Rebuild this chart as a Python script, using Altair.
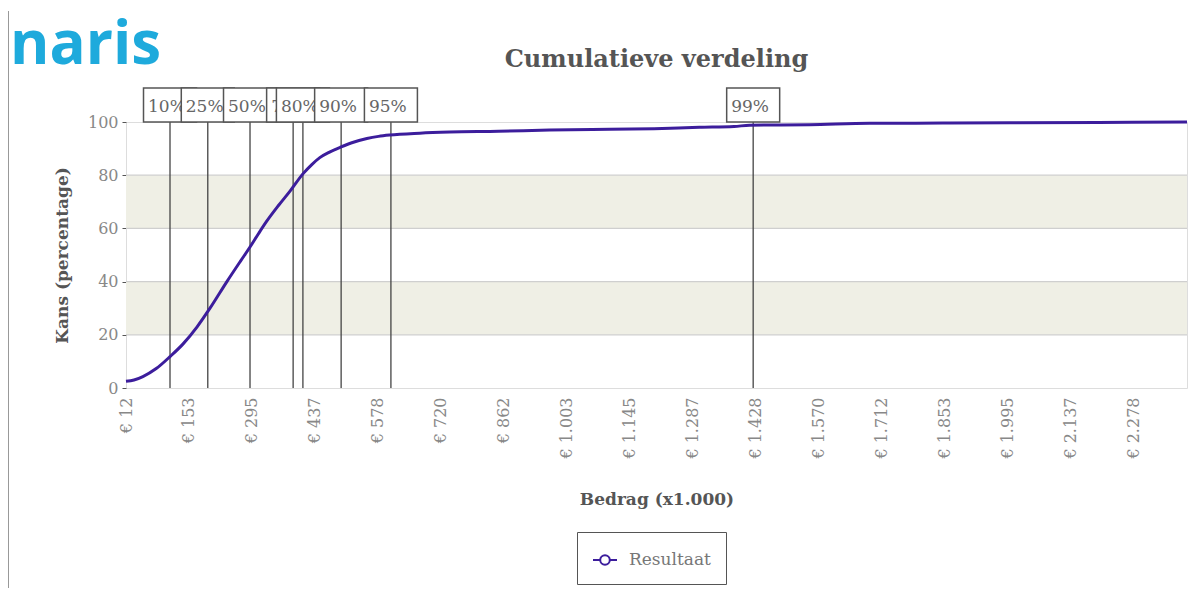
import altair as alt
import pandas as pd

# ---- data ----
bedrag = [12, 30, 50, 80, 111, 140, 172, 201, 239, 270, 291, 310, 329, 355, 381,
          410, 430, 448, 470, 493, 520, 554, 580, 605, 673, 740, 850, 965, 1100,
          1200, 1302, 1380, 1415, 1550, 1685, 1850, 2000, 2200, 2399]
kans = [2.5, 3.0, 4.3, 7.3, 11.8, 16.5, 23, 30, 40, 47.8, 53, 58, 62.8, 68.6, 74,
        80.5, 84, 86.6, 88.7, 90.4, 92.2, 93.8, 94.6, 95.1, 95.8, 96.2, 96.5, 97, 97.3,
        97.5, 98, 98.3, 98.8, 99.0, 99.5, 99.6, 99.7, 99.8, 100]

percentile_labels = ["10%", "25%", "50%", "75%", "80%", "90%", "95%", "99%"]
percentile_values = [111, 196, 291, 388, 410, 496, 608, 1423]

x_ticks = [12, 153, 295, 437, 578, 720, 862, 1003, 1145, 1287, 1428, 1570,
           1712, 1853, 1995, 2137, 2278]
y_ticks = [0, 20, 40, 60, 80, 100]
band_lo = [20, 60]
band_hi = [40, 80]
grid_values = [20, 40, 60, 80]
series_name = "Resultaat"
chart_title = "Cumulatieve verdeling"
logo_text = "naris"

W, H = 1061, 266
FONT = "DejaVu Serif"
LINE = "#3c1d9c"

xscale = alt.Scale(domain=[12, 2399], nice=False, zero=False)
yscale = alt.Scale(domain=[0, 100], nice=False, zero=True)

xaxis = alt.Axis(
    values=x_ticks, labelAngle=-90, labelAlign="right", labelBaseline="middle",
    labelExpr="'€ ' + replace(format(datum.value, ',.0f'), ',', '.')",
    labelFont=FONT, labelFontSize=16, labelColor="#888", labelPadding=9,
    ticks=False, domain=False, grid=False, labelOverlap=False,
    title="Bedrag (x1.000)", titleFont=FONT, titleFontSize=17, titleFontWeight="bold",
    titleColor="#555", titleY=103, titleBaseline="top",
)
yaxis = alt.Axis(
    values=y_ticks, labelFont=FONT, labelFontSize=16, labelColor="#888",
    labelPadding=4, tickSize=4, tickColor="#555", domain=False, grid=False,
    title="Kans (percentage)", titleFont=FONT, titleFontSize=17, titleFontWeight="bold",
    titleColor="#555", titleX=-55, titleY=H / 2, titleBaseline="bottom", titleAngle=-90,
)


def X(field):
    return alt.X(field, type="quantitative", scale=xscale, axis=xaxis, title="Bedrag (x1.000)")


def Y(field):
    return alt.Y(field, type="quantitative", scale=yscale, axis=yaxis, title="Kans (percentage)")


bands = alt.Chart(pd.DataFrame({"lo": band_lo, "hi": band_hi})).mark_rect(
    color="#efefe5"
).encode(x=alt.value(0), x2=alt.value(W), y=Y("lo"), y2="hi:Q")

grid = alt.Chart(pd.DataFrame({"g": grid_values})).mark_rule(
    color="#cfcfcf", strokeWidth=1.2
).encode(y=Y("g"), x=alt.value(0), x2=alt.value(W))

pct_df = pd.DataFrame({"pv": percentile_values, "lab": percentile_labels})
rules = alt.Chart(pct_df).mark_rule(color="#444", strokeWidth=1.3).encode(
    x=X("pv"), y=alt.value(0), y2=alt.value(H)
)

line_df = pd.DataFrame({"bedrag": bedrag, "kans": kans, "serie": series_name})
curve = alt.Chart(line_df).mark_line(strokeWidth=3, interpolate="monotone").encode(
    x=X("bedrag"), y=Y("kans"),
    color=alt.Color(
        "serie:N",
        scale=alt.Scale(domain=[series_name], range=[LINE]),
        legend=alt.Legend(
            title=None, orient="none", legendX=451, legendY=410,
            strokeColor="#555", fillColor="white", padding=15, cornerRadius=0,
            labelFont=FONT, labelFontSize=17, labelColor="#777", labelOffset=11,
            symbolType="M-1,0L-0.4,0M0.4,0L1,0M0.4,0A0.4,0.4,0,1,1,-0.4,0A0.4,0.4,0,1,1,0.4,0Z",
            symbolSize=576, symbolStrokeWidth=2, symbolFillColor="white",
            symbolStrokeColor=LINE,
        ),
    ),
)

layers = [bands, grid, rules, curve]

# percentile label boxes above the plot, drawn one after another
for lab, val in zip(percentile_labels, percentile_values):
    d = pd.DataFrame({"pv": [val], "lab": [lab]})
    box = alt.Chart(d).mark_rect(
        xOffset=-26.5, x2Offset=26.5, fill="white", stroke="#555", strokeWidth=1.5
    ).encode(x=X("pv"), x2="pv:Q", y=alt.value(-34), y2=alt.value(0))
    txt = alt.Chart(d).mark_text(
        align="left", baseline="middle", dx=-22, font=FONT, fontSize=17, color="#666"
    ).encode(x=X("pv"), y=alt.value(-15), text="lab:N")
    layers += [box, txt]

title = alt.Chart(pd.DataFrame({"t": [chart_title]})).mark_text(
    align="center", baseline="alphabetic", font=FONT, fontSize=24,
    fontWeight="bold", color="#555"
).encode(x=alt.value(W / 2), y=alt.value(-55), text="t:N")

logo = alt.Chart(pd.DataFrame({"logo": [logo_text]})).mark_text(
    align="left", baseline="alphabetic", font="Open Sans", fontSize=60,
    fontWeight="bold", color="#1eaadc"
).encode(x=alt.value(-116), y=alt.value(-58), text="logo:N")

edge = alt.Chart(pd.DataFrame({"e": [0]})).mark_rule(color="#999", strokeWidth=2).encode(
    x=alt.value(-118), y=alt.value(-111), y2=alt.value(466)
)

layers += [title, logo, edge]

chart = alt.layer(*layers).properties(
    width=W, height=H,
    autosize=alt.AutoSizeParams(type="none"),
    padding={"left": 118, "top": 114, "right": 7, "bottom": 200},
).configure_view(stroke="#555", strokeWidth=2).configure(background="white")

chart.save("out.html", embed_options={"renderer": "svg", "actions": False})
